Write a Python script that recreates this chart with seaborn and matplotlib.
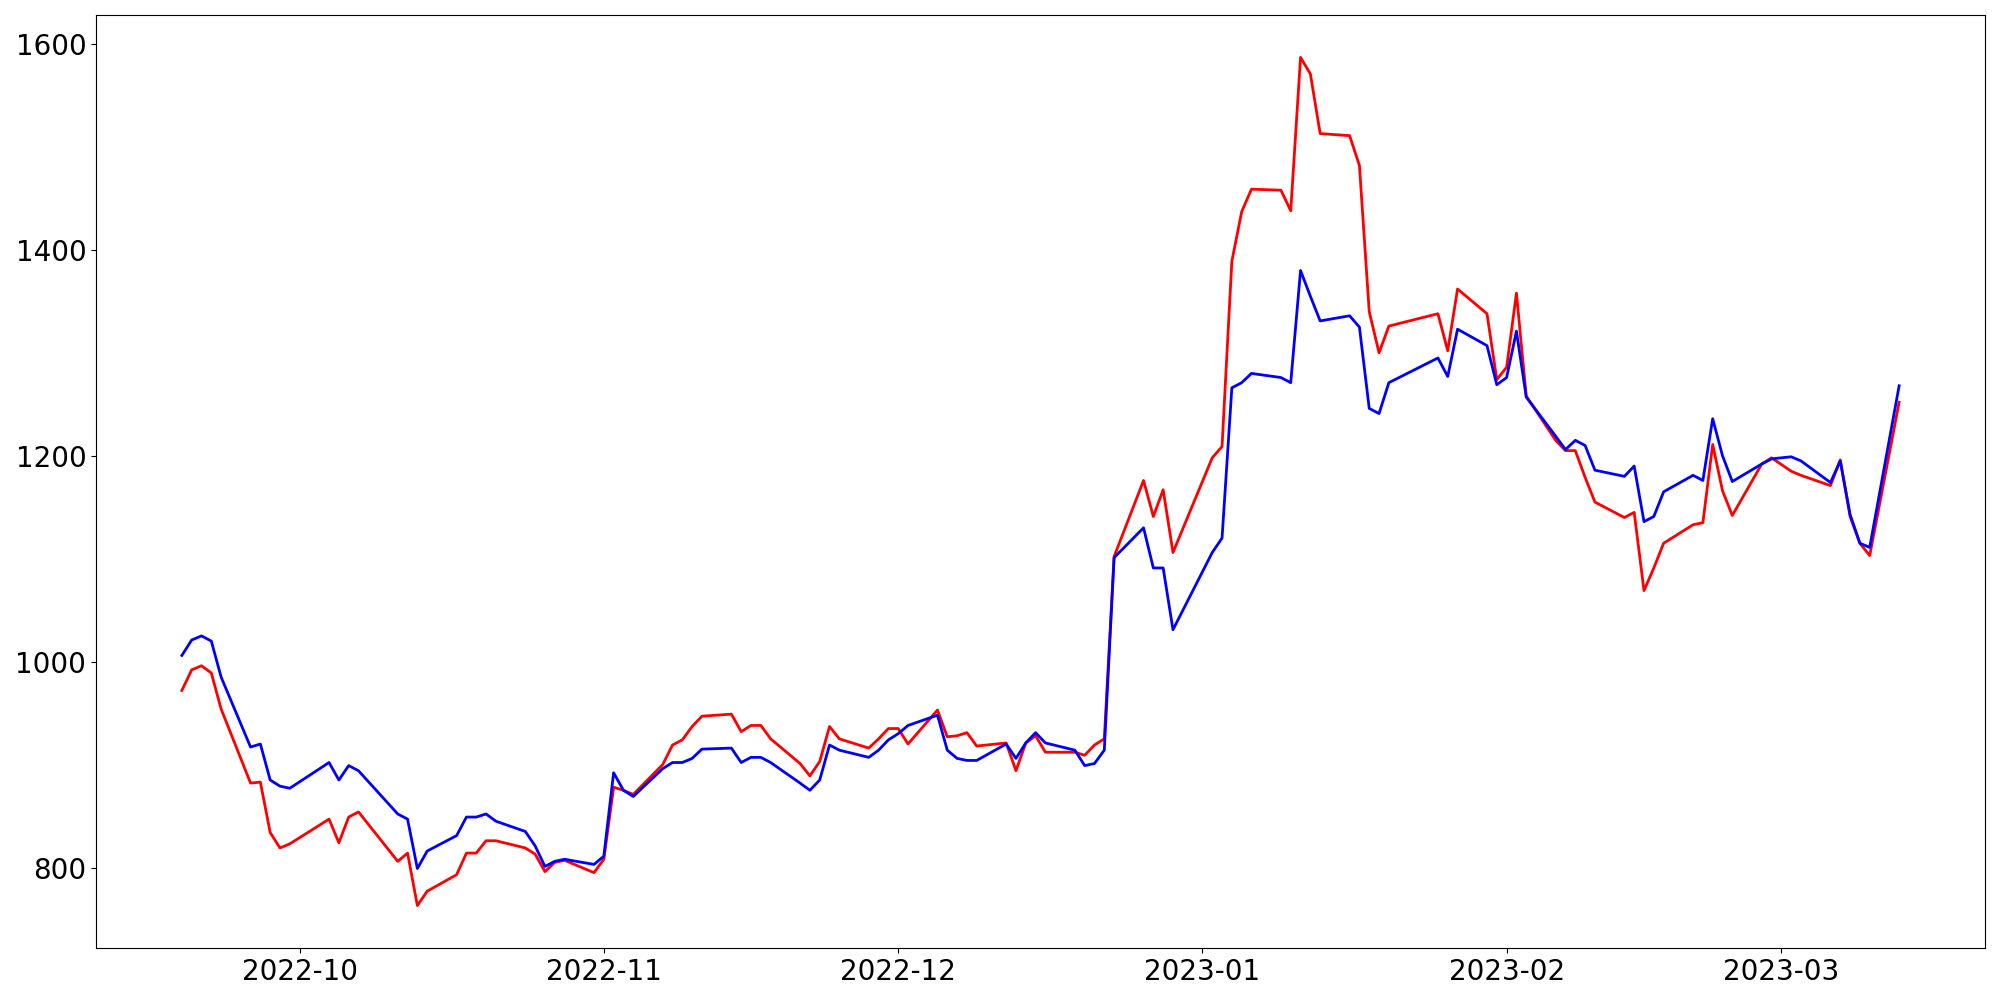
import pandas as pd
import numpy as np
import matplotlib
matplotlib.use("Agg")
import matplotlib.pyplot as plt
import matplotlib.dates as mdates
import seaborn as sns

holidays = ["2022-10-03", "2022-10-10", "2022-12-30", "2023-01-23", "2023-01-24", "2023-03-01"]
dates = [d for d in pd.bdate_range("2022-09-19", "2023-03-13") if d.strftime("%Y-%m-%d") not in holidays]

red_values = [
    972, 992, 996, 989, 954,
    882, 883, 834, 819, 823,
    847, 824, 849, 854,
    806, 814, 763, 777,
    793, 814, 814, 826, 826,
    819, 813, 796, 805, 807,
    795, 808, 878, 875, 871,
    900, 919, 924, 937, 947,
    949, 932, 938, 938, 925,
    901, 889, 903, 937, 925,
    916, 925, 935, 935, 920,
    953, 927, 928, 931, 918,
    921, 894, 921, 928, 912,
    912, 909, 919, 925, 1102,
    1176, 1141, 1167, 1106,
    1198, 1209, 1389, 1437, 1459,
    1458, 1438, 1587, 1571, 1513,
    1511, 1482, 1340, 1300, 1326,
    1338, 1302, 1362,
    1338, 1274, 1286, 1358, 1258,
    1215, 1205, 1205, 1179, 1155,
    1140, 1145, 1069, 1091, 1115,
    1133, 1135, 1211, 1166, 1142,
    1192, 1198, 1185, 1181,
    1171, 1196, 1141, 1115, 1103,
    1252,
]

blue_values = [
    1006, 1021, 1025, 1020, 985,
    917, 920, 885, 879, 877,
    902, 885, 899, 894,
    852, 847, 799, 816,
    831, 849, 849, 852, 845,
    835, 821, 801, 806, 808,
    803, 811, 892, 875, 869,
    896, 902, 902, 906, 915,
    916, 902, 907, 907, 902,
    882, 875, 885, 919, 914,
    907, 914, 924, 930, 938,
    948, 914, 906, 904, 904,
    920, 906, 921, 931, 921,
    914, 899, 901, 914, 1101,
    1130, 1091, 1091, 1031,
    1106, 1120, 1266, 1271, 1280,
    1276, 1271, 1380, 1355, 1331,
    1336, 1325, 1246, 1241, 1271,
    1295, 1277, 1323,
    1307, 1269, 1276, 1321, 1257,
    1219, 1206, 1215, 1210, 1186,
    1180, 1190, 1136, 1141, 1165,
    1181, 1176, 1236, 1200, 1175,
    1192, 1197, 1199, 1195,
    1174, 1195, 1143, 1115, 1111,
    1268,
]

df = pd.DataFrame({"date": dates, "red": red_values, "blue": blue_values})

fig, ax = plt.subplots(figsize=(20, 10), dpi=100)
sns.lineplot(data=df, x="date", y="red", color="red", linewidth=2, ax=ax)
sns.lineplot(data=df, x="date", y="blue", color="blue", linewidth=2, ax=ax)

ax.set_xlabel("")
ax.set_ylabel("")
ax.set_yticks([800, 1000, 1200, 1400, 1600])
ax.xaxis.set_major_locator(mdates.MonthLocator())
ax.xaxis.set_major_formatter(mdates.DateFormatter("%Y-%m"))
ax.tick_params(axis="both", labelsize=20)

fig.subplots_adjust(left=0.048, right=0.9925, top=0.985, bottom=0.052)
fig.savefig("out.png", dpi=100)
